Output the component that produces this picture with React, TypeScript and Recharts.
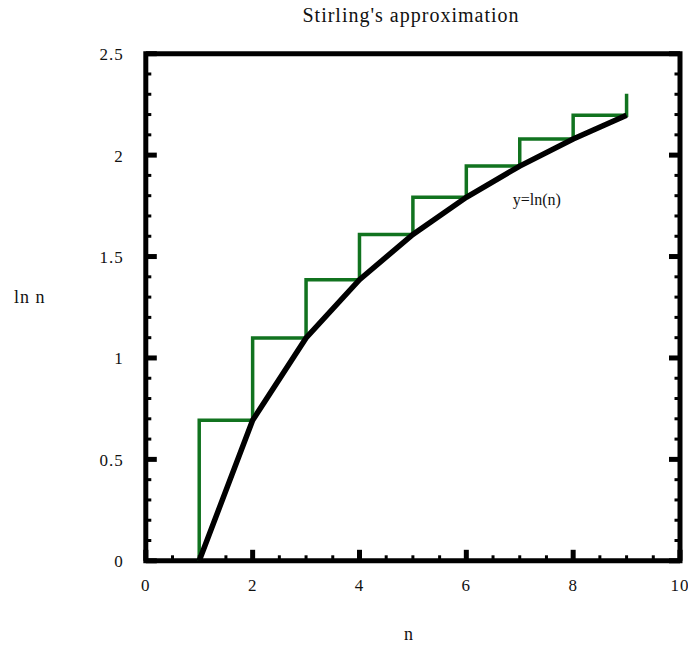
import React from 'react';
import { LineChart, Line, XAxis, YAxis, ReferenceArea, ReferenceDot } from 'recharts';

// black curve y = ln(n), drawn through the integer points
const curveN = [1, 2, 3, 4, 5, 6, 7, 8, 9];
const curveY = [0, 0.693, 1.099, 1.386, 1.609, 1.792, 1.946, 2.079, 2.197];

// green staircase (step value changes at each integer n)
const stepN = [1, 2, 3, 4, 5, 6, 7, 8, 9, 9];
const stepY = [0, 0.693, 1.099, 1.386, 1.609, 1.792, 1.946, 2.079, 2.197, 2.303];

const xTicks = [0, 0.5, 1, 1.5, 2, 2.5, 3, 3.5, 4, 4.5, 5, 5.5, 6, 6.5, 7, 7.5, 8, 8.5, 9, 9.5, 10];
const xMajor = [0, 2, 4, 6, 8, 10];
const yTicks = [0, 0.1, 0.2, 0.3, 0.4, 0.5, 0.6, 0.7, 0.8, 0.9, 1, 1.1, 1.2, 1.3, 1.4, 1.5, 1.6, 1.7, 1.8, 1.9, 2, 2.1, 2.2, 2.3, 2.4, 2.5];
const yMajor = [0, 0.5, 1, 1.5, 2, 2.5];

const curveData = curveN.map((n, i) => ({ n, y: curveY[i] }));
const stepData = stepN.map((n, i) => ({ n, y: stepY[i] }));

const FONT = '"Liberation Serif", "DejaVu Serif", serif';
const isMajor = (list: number[], v: number) => list.some((m) => Math.abs(m - v) < 1e-6);

// ticks point inward from the frame, labels only on major ticks
const makeTick = (side: 'bottom' | 'top' | 'left' | 'right') => (props: any) => {
  const { x, y, payload } = props;
  const v = payload.value;
  const major = isMajor(side === 'bottom' || side === 'top' ? xMajor : yMajor, v);
  const len = major ? 11 : 5.5;
  const w = major ? 5 : 3;
  let line;
  if (side === 'bottom') line = <line x1={x} x2={x} y1={y} y2={y - len} stroke="#000" strokeWidth={w} />;
  else if (side === 'top') line = <line x1={x} x2={x} y1={y} y2={y + len} stroke="#000" strokeWidth={w} />;
  else if (side === 'left') line = <line x1={x} x2={x + len} y1={y} y2={y} stroke="#000" strokeWidth={w} />;
  else line = <line x1={x} x2={x - len} y1={y} y2={y} stroke="#000" strokeWidth={w} />;
  let label = null;
  if (major && side === 'bottom')
    label = <text x={x} y={y + 25} textAnchor="middle" dominantBaseline="central" fontSize={17} letterSpacing={1} fill="#111" fontFamily={FONT}>{v}</text>;
  if (major && side === 'left')
    label = <text x={x - 22} y={y + 1} textAnchor="end" dominantBaseline="central" fontSize={17} letterSpacing={1} fill="#111" fontFamily={FONT}>{v}</text>;
  return <g>{line}{label}</g>;
};

export default function App() {
  return (
    <div style={{ position: 'absolute', left: 0, top: 0, width: 688, height: 647, background: '#fff', fontFamily: FONT, color: '#111' }}>
      <div style={{ position: 'absolute', left: 0, width: 822, top: 4, textAlign: 'center', fontSize: 20, letterSpacing: 1 }}>
        Stirling's approximation
      </div>
      <div style={{ position: 'absolute', left: 14, top: 287, fontSize: 18, letterSpacing: 1 }}>ln n</div>
      <div style={{ position: 'absolute', left: 404, top: 624, fontSize: 18 }}>n</div>
      <LineChart
        width={688}
        height={647}
        margin={{ top: 43.7, right: 3, bottom: 56.2, left: 85.8 }}
        style={{ position: 'absolute', left: 0, top: 0 }}
      >
        <XAxis
          xAxisId={0}
          type="number"
          dataKey="n"
          domain={[0, 10]}
          ticks={xTicks}
          interval={0}
          height={30}
          axisLine={false}
          tickLine={false}
          tickSize={0}
          tickMargin={0}
          tick={makeTick('bottom')}
          allowDataOverflow
        />
        <XAxis
          xAxisId="top"
          orientation="top"
          type="number"
          domain={[0, 10]}
          ticks={xTicks}
          interval={0}
          height={10}
          axisLine={false}
          tickLine={false}
          tickSize={0}
          tickMargin={0}
          tick={makeTick('top')}
          allowDataOverflow
        />
        <YAxis
          yAxisId={0}
          type="number"
          domain={[0, 2.5]}
          ticks={yTicks}
          interval={0}
          width={60}
          axisLine={false}
          tickLine={false}
          tickSize={0}
          tickMargin={0}
          tick={makeTick('left')}
          allowDataOverflow
        />
        <YAxis
          yAxisId="right"
          orientation="right"
          type="number"
          domain={[0, 2.5]}
          ticks={yTicks}
          interval={0}
          width={5}
          axisLine={false}
          tickLine={false}
          tickSize={0}
          tickMargin={0}
          tick={makeTick('right')}
          allowDataOverflow
        />
        <ReferenceArea x1={0} x2={10} y1={0} y2={2.5} fill="none" stroke="#000" strokeWidth={5} />
        <Line
          data={stepData}
          dataKey="y"
          type="stepBefore"
          stroke="#11731f"
          strokeWidth={3.5}
          dot={false}
          isAnimationActive={false}
        />
        <Line
          data={curveData}
          dataKey="y"
          type="linear"
          stroke="#000"
          strokeWidth={5.5}
          dot={false}
          isAnimationActive={false}
        />
        <ReferenceDot
          x={7.32}
          y={1.78}
          r={0}
          fill="none"
          stroke="none"
          label={{ value: 'y=ln(n)', position: 'center', fontSize: 16, fill: '#111', fontFamily: FONT }}
        />
      </LineChart>
    </div>
  );
}
